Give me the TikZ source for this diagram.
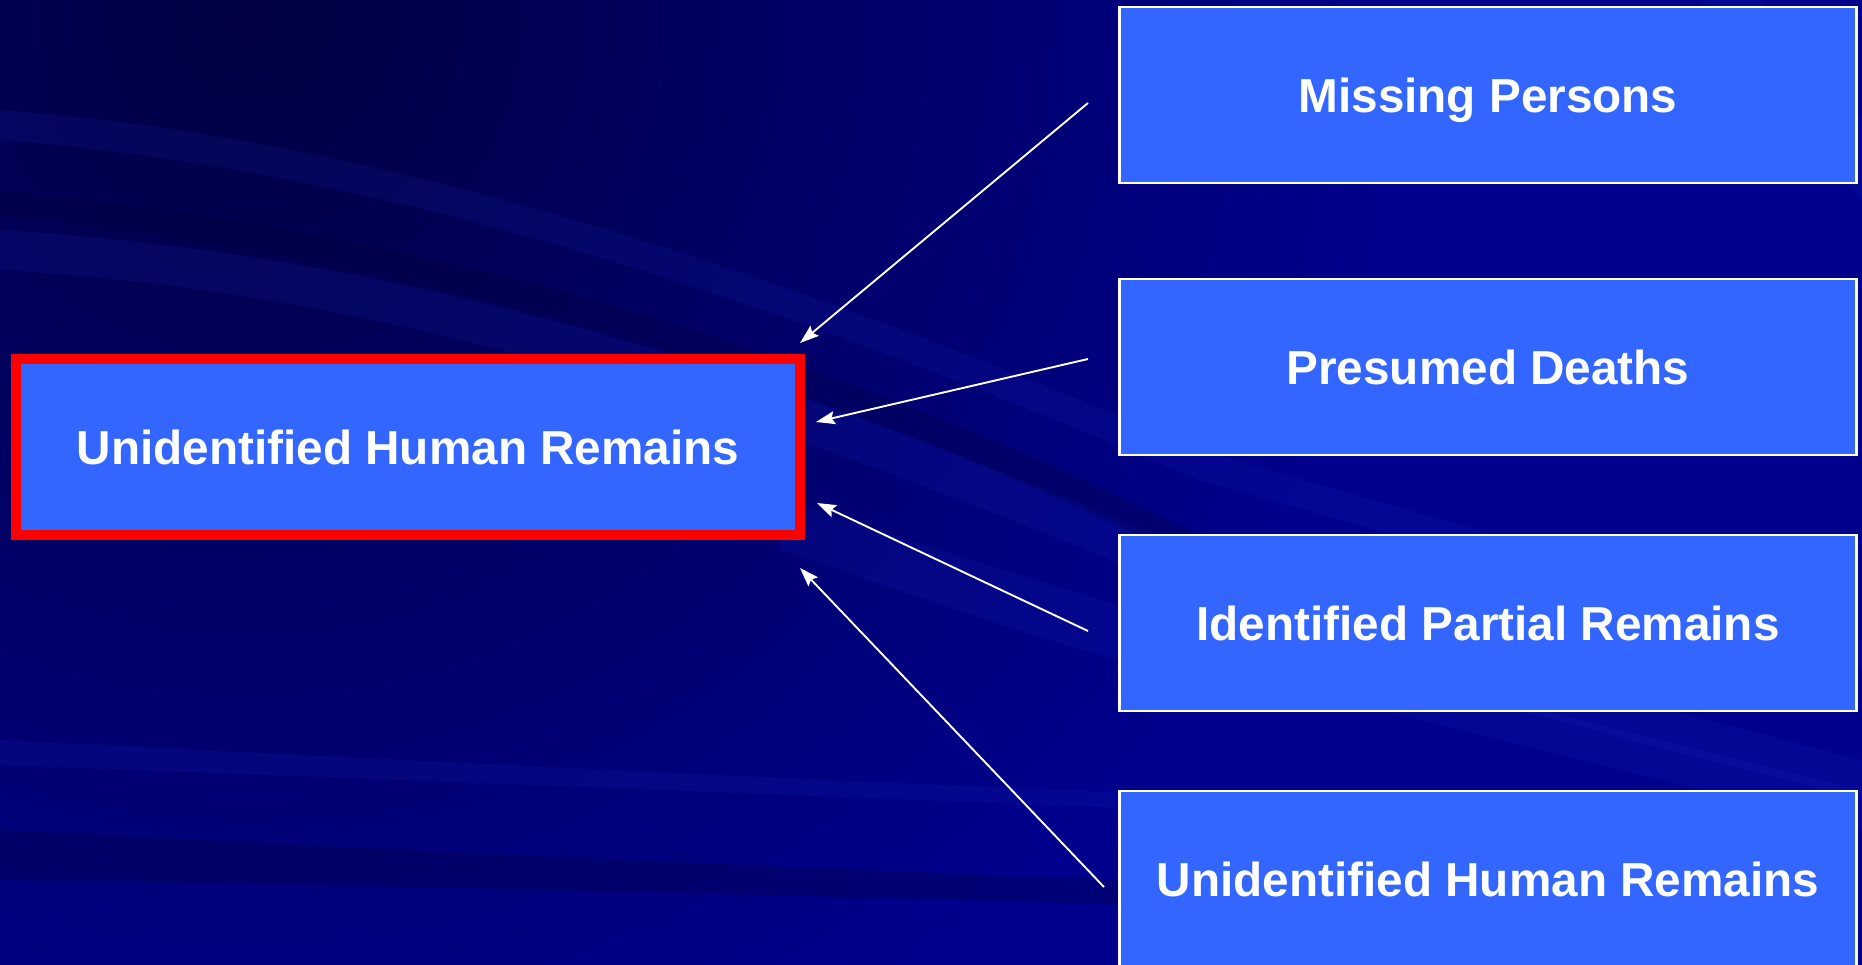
\documentclass[tikz,border=0pt]{standalone}
\usepackage{fontspec}
\setmainfont{Liberation Sans}
\usetikzlibrary{arrows.meta}
\definecolor{bgbase}{HTML}{00008C}
\definecolor{bgdark}{HTML}{000042}
\definecolor{boxblue}{HTML}{3366FF}
\definecolor{streak}{HTML}{2A3AD8}
\definecolor{darkstreak}{HTML}{000038}
\tikzset{
  boxtext/.style={text=white, font=\fontsize{47.7}{57}\selectfont\bfseries, text height=34.2pt, text depth=0pt},
  rbox/.style={draw=white, line width=2.5pt, fill=boxblue, minimum width=737pt, minimum height=176pt, inner sep=0pt, boxtext},
  mainbox/.style={draw=red, line width=10.5pt, fill=boxblue, minimum width=784pt, minimum height=176pt, inner sep=0pt, boxtext},
  conn/.style={draw=white, line width=1.9pt, -{Stealth[length=19pt,width=13pt,inset=3pt]}},
  streakband/.style={fill=streak, opacity=0.11},
  darkband/.style={fill=darkstreak, opacity=0.25}
}
\begin{document}
\begin{tikzpicture}[x=1pt,y=-1pt]
\clip (0,0) rectangle (1862,965);
% background
\fill[bgbase] (0,0) rectangle (1862,965);
\shade[inner color=bgdark, outer color=bgbase] (250,20) circle (1150);
\fill[streakband] (0,230) .. controls (500,260) and (900,420) .. (1400,640) -- (1862,760) -- (1862,800) -- (1400,680) .. controls (900,470) and (500,300) .. (0,270) -- cycle;
\fill[streakband] (0,110) .. controls (400,140) and (800,280) .. (1200,450) -- (1862,640) -- (1862,670) -- (1200,480) .. controls (800,310) and (400,170) .. (0,140) -- cycle;
\fill[streakband] (780,500) .. controls (950,550) and (1050,590) .. (1250,640) -- (1250,695) .. controls (1030,640) and (930,600) .. (780,550) -- cycle;
\fill[streakband] (1300,690) -- (1500,700) -- (1862,790) -- (1862,830) -- cycle;
\fill[streakband] (1700,0) -- (1760,0) -- (1862,120) -- (1862,200) -- cycle;
\fill[darkband] (0,830) .. controls (400,850) and (800,870) .. (1300,885) -- (1300,910) .. controls (800,895) and (400,885) .. (0,880) -- cycle;
\fill[darkband] (0,190) .. controls (400,230) and (800,330) .. (1250,560) -- (1250,590) .. controls (800,360) and (400,260) .. (0,215) -- cycle;
\fill[streakband] (0,740) .. controls (400,760) and (800,780) .. (1300,800) -- (1300,815) .. controls (800,795) and (400,780) .. (0,765) -- cycle;
% boxes
\node[mainbox] (uhr) at (408,447) {Unidentified Human Remains};
\node[rbox] (mp) at (1488,95) {Missing Persons};
\node[rbox] (pd) at (1488,367) {Presumed Deaths};
\node[rbox] (ipr) at (1488,623) {Identified Partial Remains};
\node[rbox] (uhr2) at (1488,879) {Unidentified Human Remains};
% connector ends
\coordinate (s1) at (1088,103);
\coordinate (t1) at (800,343);
\coordinate (s2) at (1088,359);
\coordinate (t2) at (816,422);
\coordinate (s3) at (1088,631);
\coordinate (t3) at (817,503);
\coordinate (s4) at (1104,887);
\coordinate (t4) at (800,568);
\draw[conn] (s1) -- (t1);
\draw[conn] (s2) -- (t2);
\draw[conn] (s3) -- (t3);
\draw[conn] (s4) -- (t4);
\end{tikzpicture}
\end{document}
